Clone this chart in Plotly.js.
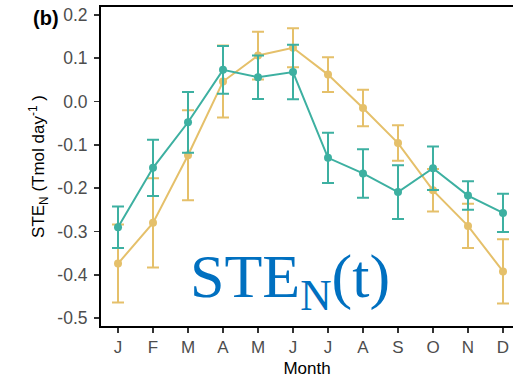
<!DOCTYPE html>
<html>
<head>
<meta charset="utf-8">
<script src="https://cdn.plot.ly/plotly-3.0.1.min.js"></script>
<style>html,body{margin:0;padding:0;overflow:hidden;background:#fff;}</style>
</head>
<body>
<div id="chart" style="width:513px;height:382px;"></div>
<script>
const months = [1,2,3,4,5,6,7,8,9,10,11,12];
const monthLabels = ["J","F","M","A","M","J","J","A","S","O","N","D"];
const goldValues = [-0.374,-0.280,-0.124,0.046,0.106,0.124,0.062,-0.015,-0.096,-0.205,-0.287,-0.392];
const goldErrors = [0.090,0.103,0.104,0.083,0.055,0.045,0.040,0.042,0.041,0.049,0.051,0.074];
const tealValues = [-0.290,-0.153,-0.048,0.073,0.056,0.068,-0.130,-0.166,-0.209,-0.154,-0.217,-0.257];
const tealErrors = [0.048,0.065,0.070,0.055,0.050,0.063,0.058,0.056,0.062,0.050,0.033,0.044];

const gold = "#E5C06A";
const teal = "#3DB0A1";

const traces = [
  {x: months, y: goldValues, type: "scatter", mode: "lines+markers",
   line: {color: gold, width: 2}, marker: {color: gold, size: 8},
   error_y: {type: "data", array: goldErrors, visible: true, color: gold, thickness: 2, width: 6},
   showlegend: false},
  {x: months, y: tealValues, type: "scatter", mode: "lines+markers",
   line: {color: teal, width: 2}, marker: {color: teal, size: 8},
   error_y: {type: "data", array: tealErrors, visible: true, color: teal, thickness: 2, width: 6},
   showlegend: false}
];

const layout = {
  width: 513, height: 382,
  margin: {l: 101, r: 0, t: 7, b: 56},
  paper_bgcolor: "#fff", plot_bgcolor: "#fff",
  font: {family: "Liberation Sans, Arial, sans-serif", size: 17, color: "#4D4D4D"},
  xaxis: {
    range: [0.514, 12.286], tickvals: months, ticktext: monthLabels,
    showgrid: false, zeroline: false, showline: true, linecolor: "#000", linewidth: 2,
    mirror: true, ticks: "outside", ticklen: 5, tickwidth: 1.5, tickcolor: "#333",
    tickfont: {size: 17, color: "#4D4D4D"},
    title: {text: "Month", font: {size: 17, color: "#000"}, standoff: 6}
  },
  yaxis: {
    range: [-0.518, 0.218], tickvals: [-0.5,-0.4,-0.3,-0.2,-0.1,0,0.1,0.2],
    ticktext: ["-0.5","-0.4","-0.3","-0.2","-0.1","0.0","0.1","0.2"],
    showgrid: false, zeroline: false, showline: true, linecolor: "#000", linewidth: 2,
    mirror: false, ticks: "outside", ticklen: 5, tickwidth: 1.5, tickcolor: "#333",
    ticklabelstandoff: 3,
    tickfont: {size: 17.5, color: "#4D4D4D"},
    title: {text: "STE<sub>N</sub> (Tmol day<sup>-1</sup> )", font: {size: 17, color: "#000"}, standoff: 8}
  },
  annotations: [
    {text: "<b>(b)</b>", xref: "paper", yref: "paper",
     x: (46 - 101) / 412, y: 1 - (18 - 7) / 319, xanchor: "center", yanchor: "middle",
     showarrow: false, font: {size: 20, color: "#000"}},
    {text: "STE<sub>N</sub>(t)", xref: "paper", yref: "paper",
     x: (290 - 101) / 412, y: 1 - (280 - 7) / 319, xanchor: "center", yanchor: "middle",
     showarrow: false, font: {family: "Liberation Serif, Times New Roman, serif", size: 62, color: "#0070C0"}}
  ]
};

Plotly.newPlot("chart", traces, layout, {displayModeBar: false, staticPlot: true});
</script>
</body>
</html>
